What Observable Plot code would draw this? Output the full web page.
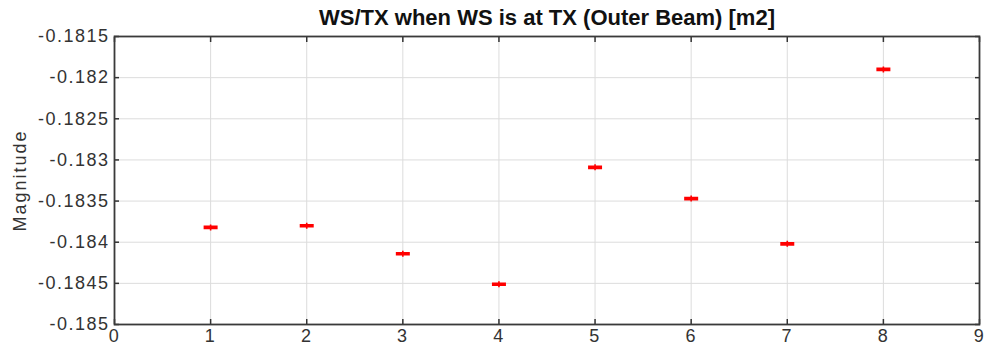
<!DOCTYPE html>
<html>
<head>
<meta charset="utf-8">
<script src="https://cdn.jsdelivr.net/npm/d3@7"></script>
<script src="https://cdn.jsdelivr.net/npm/@observablehq/plot@0.6"></script>
<style>
  html, body { margin: 0; padding: 0; background: #fff; }
  #chart svg { display: block; }
  #chart g[aria-label="x-axis tick label"] text,
  #chart g[aria-label="y-axis tick label"] text { letter-spacing: 1.5px; }
  #chart .ylabel text { letter-spacing: 2px; }
</style>
</head>
<body>
<div id="chart"></div>
<script>
// Measured magnitudes per sample index
const indices = [1, 2, 3, 4, 5, 6, 7, 8];
const magnitudes = [-0.18382, -0.18380, -0.18414, -0.18451, -0.18309, -0.18347, -0.18402, -0.18190];
const xTicks = [0, 1, 2, 3, 4, 5, 6, 7, 8, 9];
const yTicks = [-0.185, -0.1845, -0.184, -0.1835, -0.183, -0.1825, -0.182, -0.1815];
const title = "WS/TX when WS is at TX (Outer Beam) [m2]";
const yLabel = "Magnitude";

const data = indices.map((x, i) => ({x, y: magnitudes[i]}));

// Small horizontal error-bar glyph
const barSymbol = {
  draw(ctx) {
    ctx.rect(-7, -1.8, 14, 3.6);
    ctx.rect(-0.8, -3, 1.6, 6);
  }
};

const chart = Plot.plot({
  width: 988,
  height: 352,
  marginLeft: 114,
  marginRight: 9,
  marginTop: 36,
  marginBottom: 28,
  style: {fontFamily: "Liberation Sans, Arial, sans-serif", fontSize: "18px", color: "#333", background: "#fff"},
  x: {domain: [0, 9]},
  y: {domain: [-0.185, -0.1815]},
  marks: [
    Plot.gridX(xTicks, {stroke: "#dcdcdc", strokeOpacity: 1, strokeWidth: 1}),
    Plot.gridY(yTicks, {stroke: "#dcdcdc", strokeOpacity: 1, strokeWidth: 1}),
    Plot.axisX({ticks: xTicks, tickSize: -5, tickPadding: 10, tickFormat: d => String(d), label: null, stroke: "#333", fill: "#333", fontSize: 18, strokeWidth: 1.5}),
    Plot.axisX({anchor: "top", ticks: xTicks, tickSize: -5, tickFormat: () => "", label: null, stroke: "#333", strokeWidth: 1.5}),
    Plot.axisY({ticks: yTicks, tickSize: -5, tickPadding: 10, tickFormat: d => String(d), label: null, stroke: "#333", fill: "#333", fontSize: 18, strokeWidth: 1.5}),
    Plot.axisY({anchor: "right", ticks: yTicks, tickSize: -5, tickFormat: () => "", label: null, stroke: "#333", strokeWidth: 1.5}),
    Plot.frame({stroke: "#3a3a3a", strokeWidth: 1.8}),
    Plot.dot(data, {x: "x", y: "y", symbol: barSymbol, fill: "#ff0000", stroke: "none"}),
    Plot.text([title], {frameAnchor: "top", dy: -27, fontWeight: "bold", fontSize: 22, fill: "#111"}),
    Plot.text([yLabel], {frameAnchor: "left", textAnchor: "middle", dx: -94, rotate: -90, fontSize: 18, fill: "#333", className: "ylabel"})
  ]
});

document.getElementById("chart").appendChild(chart);
</script>
</body>
</html>
